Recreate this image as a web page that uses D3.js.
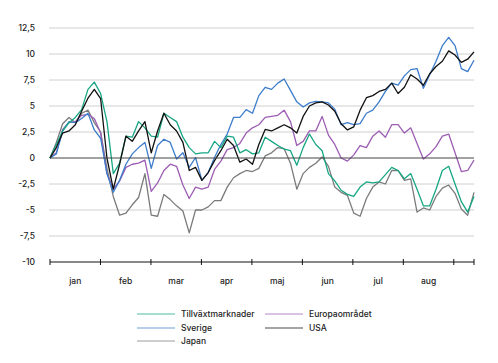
<!DOCTYPE html>
<html>
<head>
<meta charset="utf-8">
<script src="https://cdn.jsdelivr.net/npm/d3@7"></script>
<style>
  body { margin: 0; background: #fff; }
  svg { display: block; font-family: Inter, "Noto Sans", sans-serif; font-weight: 500; }
</style>
</head>
<body>
<div id="chart"></div>
<script>
// month labels, tick values and the five series (cumulative change, %)
var months = ["jan", "feb", "mar", "apr", "maj", "jun", "jul", "aug"];
var yTicks = [12.5, 10, 7.5, 5, 2.5, 0, -2.5, -5, -7.5, -10];
var monthSpan = 8.4; // data runs a bit into september

var tillvaxt = [0, 1.3, 2.6, 3.4, 3.9, 4.65, 6.6, 7.3, 6.2, 3.5, -1.5, -0.5, 2.1, 2.0, 3.5, 2.9,
  2.1, 2.0, 4.3, 3.9, 3.5, 2.0, 1.0, 0.4, 0.5, 0.5, 1.6, 1.0, 2.1, 2.0, 0.5, 0.8, 0.4, 0.5, 2.0,
  1.6, 1.2, 0.85, 0.7, -0.7, 1.0, 2.3, 1.3, 0.7, -1.5, -2.2, -3.1, -3.5, -3.7, -2.8, -2.3, -2.4,
  -2.3, -1.6, -0.9, -1.2, -2.0, -1.5, -3.0, -4.6, -4.6, -3.0, -1.2, -0.8, -2.5, -4.2, -5.2, -3.7];

var sverige = [0, 0.4, 2.6, 3.5, 3.4, 3.8, 4.3, 2.7, 1.9, -1.5, -3.3, -2.15, -0.6, 0.4, 1.0, 1.5,
  -1.0, 1.2, 1.8, 1.5, -0.1, 0.5, -0.9, 0.05, -2.15, -1.4, 0.05, 1.3, 2.3, 3.9, 3.9, 4.65, 4.3,
  6.0, 6.8, 6.6, 7.2, 7.6, 6.5, 5.4, 4.9, 5.3, 5.45, 5.4, 5.3, 4.7, 3.2, 3.4, 3.2, 3.3, 4.3, 4.6,
  5.4, 6.4, 7.2, 7.0, 7.9, 8.5, 8.6, 6.7, 8.0, 9.3, 10.8, 11.6, 10.8, 8.6, 8.3, 9.4];

var europa = [0, 0.5, 2.75, 3.4, 3.5, 4.1, 4.2, 3.8, 2.4, -1.5, -3.0, -2.2, -0.9, -0.6, -0.5, -0.2,
  -3.2, -2.4, -1.2, -0.6, -0.8, -2.6, -3.9, -2.8, -3.0, -2.8, -1.1, -0.3, 0.8, 1.0, 1.4, 2.4, 2.9,
  3.2, 3.9, 4.0, 4.1, 4.6, 3.5, 1.2, 1.6, 2.6, 2.6, 4.0, 2.2, 1.3, 0.0, -0.3, 0.3, 1.2, 1.0, 2.1,
  2.6, 2.0, 3.2, 3.2, 2.4, 2.9, 1.4, -0.1, 0.4, 1.1, 2.1, 2.3, 0.5, -1.3, -1.2, -0.2];

var usa = [0, 1.0, 2.4, 2.6, 3.2, 4.5, 5.75, 6.6, 5.7, 0.0, -3.0, -0.6, 2.1, 1.6, 2.6, 3.5,
  0.5, 2.6, 4.3, 3.2, 2.6, 1.5, -1.2, -0.9, -2.15, -1.4, -0.25, 0.7, 1.8, 1.2, -0.4, -0.1, -0.6,
  1.3, 2.75, 2.6, 2.9, 3.2, 2.9, 2.4, 4.0, 5.0, 5.3, 5.4, 5.1, 4.5, 3.3, 2.7, 3.0, 4.6, 5.8, 6.0,
  6.4, 6.6, 7.2, 6.2, 6.8, 8.0, 7.6, 7.0, 8.1, 8.8, 9.3, 10.3, 9.9, 9.2, 9.5, 10.2];

var japan = [0, 1.5, 3.3, 3.9, 3.4, 4.3, 4.6, 3.4, 2.5, -1.0, -3.7, -5.5, -5.3, -4.5, -3.8, -1.5,
  -5.5, -5.6, -3.5, -4.0, -4.6, -5.1, -7.2, -5.0, -5.0, -4.7, -4.1, -4.1, -2.8, -1.9, -1.5, -1.2,
  -1.3, -1.0, 0.2, 0.5, 1.0, 0.9, -0.5, -3.0, -1.5, -0.9, -0.5, 0.1, -0.8, -2.8, -3.3, -3.6, -5.3,
  -5.6, -3.9, -2.8, -2.3, -2.5, -1.2, -1.2, -2.15, -2.0, -5.2, -4.8, -5.0, -3.7, -2.9, -2.6, -3.4,
  -4.9, -5.5, -3.3];

var seriesNames = ["Tillväxtmarknader", "Europaområdet", "Sverige", "USA", "Japan"];
var seriesColors = ["#17a683", "#9c5db3", "#3d7dcc", "#111111", "#7b7b7b"];
var seriesData = [tillvaxt, europa, sverige, usa, japan];

var width = 498, height = 363,
    margin = {top: 28, right: 24, bottom: 101, left: 50};

var svg = d3.select("#chart").append("svg")
    .attr("width", width)
    .attr("height", height);

var xScale = d3.scaleLinear().domain([0, monthSpan]).range([margin.left, width - margin.right]);
var yScale = d3.scaleLinear().domain([-10, 12.5]).range([height - margin.bottom, margin.top]);

// gridlines
svg.append("g").selectAll("line")
    .data(yTicks.filter(function(d) { return d > -10 && d !== 0; }))
  .enter().append("line")
    .attr("x1", xScale(0) - 1).attr("x2", xScale(monthSpan))
    .attr("y1", function(d) { return yScale(d); })
    .attr("y2", function(d) { return yScale(d); })
    .attr("stroke", "#d0d0d0").attr("stroke-width", 1);

// y labels
svg.append("g").selectAll("text")
    .data(yTicks)
  .enter().append("text")
    .attr("x", 35)
    .attr("y", function(d) { return yScale(d); })
    .attr("dy", "0.35em")
    .attr("text-anchor", "end")
    .attr("font-size", "8.5px")
    .attr("fill", "#222")
    .text(function(d) { return String(d).replace(".", ","); });

// lines, japan first so usa ends up on top
var line = d3.line()
    .x(function(d, i) { return xScale(i * monthSpan / (tillvaxt.length - 1)); })
    .y(function(d) { return yScale(d); });

var drawOrder = [4, 1, 2, 0, 3];
drawOrder.forEach(function(k) {
  svg.append("path")
      .datum(seriesData[k])
      .attr("d", line)
      .attr("fill", "none")
      .attr("stroke", seriesColors[k])
      .attr("stroke-width", 1.3)
      .attr("stroke-linejoin", "round");
});

// zero line
svg.append("line")
    .attr("x1", xScale(0)).attr("x2", xScale(monthSpan))
    .attr("y1", yScale(0)).attr("y2", yScale(0))
    .attr("stroke", "#444").attr("stroke-width", 1);

// x axis at -10
var tickVals = d3.range(0, months.length + 1).concat([monthSpan]);
var xAxis = svg.append("g")
    .attr("transform", "translate(0," + yScale(-10) + ")");
xAxis.append("line")
    .attr("x1", xScale(0)).attr("x2", xScale(monthSpan))
    .attr("stroke", "#111").attr("stroke-width", 1);
xAxis.selectAll(".tick")
    .data(tickVals)
  .enter().append("line")
    .attr("class", "tick")
    .attr("x1", function(d) { return xScale(d); })
    .attr("x2", function(d) { return xScale(d); })
    .attr("y1", -3).attr("y2", 3)
    .attr("stroke", "#111");
xAxis.selectAll("text")
    .data(months)
  .enter().append("text")
    .attr("x", function(d, i) { return xScale(i + 0.5); })
    .attr("y", 19)
    .attr("dy", "0.35em")
    .attr("text-anchor", "middle")
    .attr("font-size", "8.5px")
    .attr("fill", "#222")
    .text(function(d) { return d; });

// legend
var legendPos = [[137, 314], [265, 314], [137, 328], [265, 328], [137, 341]];
var legend = svg.append("g").selectAll("g")
    .data(seriesNames)
  .enter().append("g")
    .attr("transform", function(d, i) { return "translate(" + legendPos[i][0] + "," + legendPos[i][1] + ")"; });
legend.append("line")
    .attr("x1", 0).attr("x2", 38)
    .attr("stroke", function(d, i) { return seriesColors[i]; })
    .attr("stroke-opacity", 0.75)
    .attr("stroke-width", 1.2);
legend.append("text")
    .attr("x", 44)
    .attr("dy", "0.35em")
    .attr("font-size", "8.5px")
    .attr("fill", "#222")
    .text(function(d) { return d; });
</script>
</body>
</html>
